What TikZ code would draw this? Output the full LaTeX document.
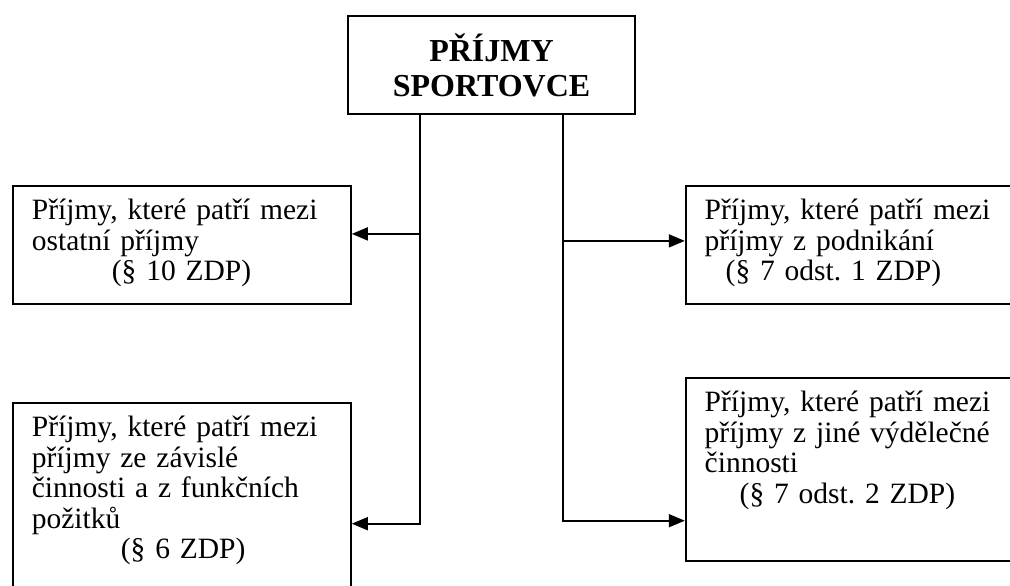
\documentclass[tikz,border=0pt]{standalone}
\usepackage{fontspec}
\setmainfont{Liberation Serif}
\usetikzlibrary{positioning,arrows.meta}
\newcommand{\bodyfont}{\fontsize{29.5}{30.5}\selectfont\frenchspacing}
\newcommand{\titlefont}{\fontsize{32}{35}\selectfont\bfseries}
\tikzset{
  headbox/.style={rectangle, draw=black, line width=1.8pt, align=center,
                  minimum width=287pt, minimum height=98pt, inner sep=0pt,
                  font=\titlefont},
  incbox/.style={rectangle, draw=black, line width=1.8pt, align=left,
                 text width=300pt, inner xsep=19pt, inner ysep=0pt,
                 text height=34pt, text depth=#1, anchor=north west,
                 font=\bodyfont},
  link/.style={-{Triangle[length=16pt,width=13pt]}, line width=1.7pt, draw=black},
}

\begin{document}
\begin{tikzpicture}[x=1pt,y=-1pt]
  \useasboundingbox (0,0) rectangle (1010,586);
  \clip (0,0) rectangle (1010,586);

  \node[headbox, anchor=north] (title) at (491.5,15) {PŘÍJMY\\SPORTOVCE};
  \node[incbox=84pt] (ostatni) at (12,185)
    {Příjmy, které patří mezi\\ostatní příjmy\\\hspace*{80pt}(§ 10 ZDP)};
  \node[incbox=84pt, right=333pt of ostatni.north east, anchor=north west] (podnik)
    {Příjmy, které patří mezi\\příjmy z podnikání\\\hspace*{21pt}(§ 7 odst. 1 ZDP)};
  \node[incbox=171pt, below=97pt of ostatni.south west, anchor=north west] (zavisla)
    {Příjmy, které patří mezi\\příjmy ze závislé\\činnosti a z funkčních\\požitků\\\hspace*{89pt}(§ 6 ZDP)};
  \node[incbox=149pt, below=72pt of podnik.south west, anchor=north west] (jina)
    {Příjmy, které patří mezi\\příjmy z jiné výdělečné\\činnosti\\\hspace*{35pt}(§ 7 odst. 2 ZDP)};

  % two trunks down from the title box
  \coordinate (forkL) at ([xshift=-71.5pt]title.south);
  \coordinate (forkR) at ([xshift=71.5pt]title.south);

  \draw[link] (forkL) |- ([yshift=11pt]ostatni.east);
  \draw[link] (forkL) |- ([yshift=-18.5pt]zavisla.east);
  \draw[link] (forkR) |- ([yshift=4pt]podnik.west);
  \draw[link] (forkR) |- ([yshift=-51.5pt]jina.west);
\end{tikzpicture}
\end{document}
